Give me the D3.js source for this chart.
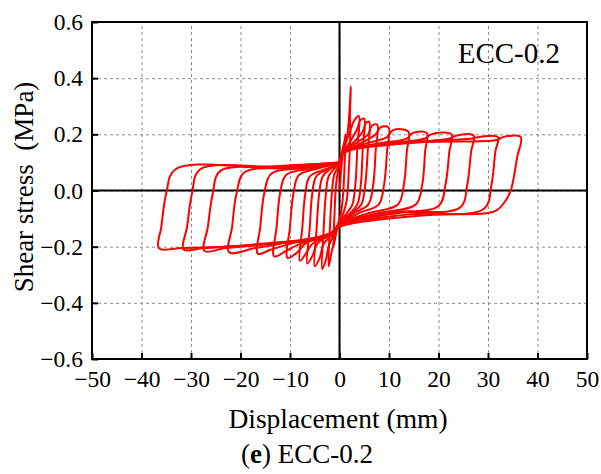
<!DOCTYPE html>
<html>
<head>
<meta charset="utf-8">
<script src="https://cdn.jsdelivr.net/npm/d3@7"></script>
<style>
  body { margin: 0; background: #fff; }
  svg { display: block; }
</style>
</head>
<body>
<svg id="chart" width="601" height="474"></svg>
<script>
var SERIF = "Liberation Serif";

// tick values
var xTicks = [-50, -40, -30, -20, -10, 0, 10, 20, 30, 40, 50];
var yTicks = [-0.6, -0.4, -0.2, 0.0, 0.2, 0.4, 0.6];

// hysteresis loops, one array of [displacement, stress] per cycle
var loops = [
  [[0,0],[0.6,0.12],[1.2,0.20],[1.0,0.08],[0.7,-0.02],[0.3,-0.08],[0,-0.10],[-0.6,-0.14],[-1.2,-0.20],[-1.0,-0.08],[-0.7,0.02],[-0.3,0.07],[0,0.09]],
  [[0,0.09],[0.8,0.16],[1.5,0.19],[2.3,0.37],[2.1,0.26],[2.2,0.22],[1.9,0.08],[1.5,-0.03],[0.8,-0.08],[0,-0.11],[-0.8,-0.16],[-1.6,-0.22],[-2.2,-0.27],[-1.9,-0.12],[-1.5,0.0],[-1.0,0.06],[0,0.09]],
  [[0,0.09],[0.5,0.13],[1.5,0.18],[2.3,0.22],[3.0,0.25],[3.9,0.265],[3.6,0.15],[3.2,0.02],[2.6,-0.05],[1.5,-0.08],[0,-0.115],[-1.0,-0.15],[-2.2,-0.2],[-2.8,-0.25],[-3.5,-0.28],[-3.2,-0.14],[-2.8,-0.02],[-2.2,0.05],[-1.2,0.075],[0,0.095]],
  [[0,0.095],[0.6,0.13],[2.0,0.17],[3.6,0.22],[4.2,0.25],[5.0,0.255],[4.7,0.15],[4.3,0.02],[3.6,-0.05],[2.2,-0.08],[0,-0.115],[-1.2,-0.15],[-3.2,-0.19],[-4.0,-0.24],[-5.0,-0.27],[-4.6,-0.13],[-4.1,-0.01],[-3.4,0.05],[-2.0,0.075],[0,0.095]],
  [[0,0.095],[0.6,0.13],[2.5,0.165],[4.7,0.21],[5.3,0.24],[6.0,0.245],[5.7,0.14],[5.2,0.02],[4.4,-0.05],[2.5,-0.08],[0,-0.12],[-1.3,-0.15],[-4.5,-0.19],[-5.4,-0.23],[-6.5,-0.26],[-6.0,-0.13],[-5.5,-0.01],[-4.7,0.05],[-2.5,0.075],[0,0.095]],
  [[0,0.095],[0.7,0.13],[3,0.165],[5.8,0.2],[6.5,0.23],[7.6,0.235],[7.3,0.14],[6.8,0.02],[5.8,-0.05],[3,-0.08],[0,-0.12],[-1.4,-0.15],[-5.5,-0.19],[-6.8,-0.225],[-8.0,-0.25],[-7.5,-0.13],[-6.9,-0.01],[-6.0,0.05],[-3,0.075],[0,0.095]],
  [[0,0.1],[0.8,0.135],[4,0.165],[7.3,0.2],[8.3,0.225],[9.9,0.225],[9.6,0.14],[9.0,0.02],[7.9,-0.05],[4,-0.08],[0,-0.12],[-1.5,-0.15],[-7,-0.19],[-8.5,-0.22],[-10.5,-0.24],[-10.0,-0.13],[-9.3,-0.01],[-8.2,0.055],[-4,0.08],[0,0.1]],
  [[0,0.1],[0.8,0.135],[5,0.165],[9.6,0.19],[10.8,0.215],[13.9,0.21],[13.6,0.14],[13.0,0.02],[11.8,-0.05],[6,-0.08],[0,-0.12],[-1.5,-0.15],[-8,-0.19],[-10.8,-0.215],[-13.2,-0.235],[-12.7,-0.13],[-12.0,-0.01],[-10.8,0.055],[-5,0.08],[0,0.1]],
  [[0,0.1],[0.9,0.135],[7,0.165],[13.6,0.185],[14.8,0.205],[17.6,0.205],[17.3,0.14],[16.7,0.02],[15.4,-0.05],[8,-0.08],[0,-0.12],[-1.6,-0.15],[-10,-0.19],[-13.8,-0.21],[-16.5,-0.225],[-16.0,-0.13],[-15.2,-0.01],[-13.8,0.06],[-7,0.08],[0,0.1]],
  [[0,0.1],[0.9,0.135],[9,0.165],[17.3,0.185],[18.5,0.2],[22.6,0.2],[22.2,0.14],[21.4,0.02],[20.0,-0.055],[10,-0.08],[0,-0.12],[-1.6,-0.15],[-12,-0.19],[-17,-0.205],[-22.3,-0.22],[-21.7,-0.13],[-20.8,-0.01],[-19.2,0.065],[-9,0.08],[0,0.1]],
  [[0,0.1],[1,0.135],[11,0.165],[22.3,0.185],[23.5,0.195],[27.1,0.195],[26.6,0.14],[25.8,0.02],[24.4,-0.06],[12,-0.08],[0,-0.125],[-1.7,-0.155],[-14,-0.19],[-23,-0.205],[-27.3,-0.215],[-26.6,-0.13],[-25.6,-0.01],[-24.1,0.07],[-11,0.08],[0,0.1]],
  [[0,0.1],[1,0.135],[13,0.17],[26.8,0.185],[28,0.19],[32,0.19],[31.5,0.14],[30.7,0.02],[29.2,-0.065],[14,-0.085],[0,-0.125],[-1.7,-0.155],[-16,-0.19],[-27.5,-0.205],[-31.5,-0.21],[-30.8,-0.13],[-29.8,-0.01],[-28.2,0.075],[-13,0.085],[0,0.1]],
  [[0,0.1],[1,0.135],[15,0.17],[31.8,0.18],[33,0.19],[36.6,0.19],[35.9,0.12],[34.6,0.0],[33.4,-0.04],[31.8,-0.07],[30,-0.08],[16,-0.09],[0,-0.13],[-1.8,-0.16],[-18,-0.195],[-31.8,-0.205],[-36.5,-0.205],[-36.0,-0.13],[-35.0,-0.01],[-33.2,0.075],[-15,0.085],[0,0.1]]
];

var svg = d3.select("#chart").attr("font-family", SERIF);
var margin = { top: 22, right: 14, bottom: 115, left: 92 },
  width = 601 - margin.left - margin.right,
  height = 474 - margin.top - margin.bottom;
var g = svg.append("g").attr("transform", "translate(" + margin.left + "," + margin.top + ")");

var x = d3.scaleLinear().domain([-50, 50]).range([0, width]);
var y = d3.scaleLinear().domain([-0.6, 0.6]).range([height, 0]);

// dashed grid
g.append("g")
  .attr("transform", "translate(0," + height + ")")
  .call(d3.axisBottom(x).tickValues(xTicks.slice(1, -1)).tickSize(-height).tickFormat(""))
  .call(function (s) { s.select(".domain").remove(); })
  .selectAll("line").attr("stroke", "#8c8c8c").attr("stroke-dasharray", "3,3");
g.append("g")
  .call(d3.axisLeft(y).tickValues(yTicks.slice(1, -1)).tickSize(-width).tickFormat(""))
  .call(function (s) { s.select(".domain").remove(); })
  .selectAll("line").attr("stroke", "#8c8c8c").attr("stroke-dasharray", "3,3");

// zero lines
g.append("line").attr("x1", x(0)).attr("x2", x(0)).attr("y1", 0).attr("y2", height)
  .attr("stroke", "#000").attr("stroke-width", 2);
g.append("line").attr("x1", 0).attr("x2", width).attr("y1", y(0)).attr("y2", y(0))
  .attr("stroke", "#000").attr("stroke-width", 2);

// loops
var line = d3.line()
  .x(function (d) { return x(d[0]); })
  .y(function (d) { return y(d[1]); })
  .curve(d3.curveCatmullRom.alpha(0.5));
g.append("g").selectAll("path").data(loops).enter()
  .append("path")
  .attr("d", line)
  .attr("fill", "none")
  .attr("stroke", "#ff0000")
  .attr("stroke-width", 2)
  .attr("stroke-linejoin", "round");

// axes
var xAxis = g.append("g")
  .attr("transform", "translate(0," + height + ")")
  .call(d3.axisBottom(x).tickValues(xTicks).tickSize(-6).tickPadding(11).tickFormat(d3.format("d")));
var yAxis = g.append("g")
  .call(d3.axisLeft(y).tickValues(yTicks).tickSize(-6).tickPadding(9).tickFormat(d3.format(".1f")));
[xAxis, yAxis].forEach(function (a) {
  a.attr("font-family", SERIF).attr("font-size", 23.5);
  a.select(".domain").remove();
  a.selectAll("line").attr("stroke", "#000").attr("stroke-width", 2);
  a.selectAll("text").attr("fill", "#000").attr("font-family", SERIF);
});

// frame
g.append("rect").attr("width", width).attr("height", height)
  .attr("fill", "none").attr("stroke", "#000").attr("stroke-width", 2);

// labels
svg.append("text")
  .attr("x", 560).attr("y", 63)
  .attr("text-anchor", "end")
  .attr("font-size", 29)
  .text("ECC-0.2");

svg.append("text")
  .attr("x", 338).attr("y", 428)
  .attr("text-anchor", "middle")
  .attr("font-size", 27.5)
  .text("Displacement (mm)");

svg.append("text")
  .attr("transform", "translate(33,187) rotate(-90)")
  .attr("text-anchor", "middle")
  .attr("xml:space", "preserve")
  .attr("font-size", 27)
  .style("white-space", "pre")
  .text("Shear stress  (MPa)");

var cap = svg.append("text")
  .attr("x", 307).attr("y", 463)
  .attr("text-anchor", "middle")
  .attr("font-size", 27);
cap.append("tspan").text("(");
cap.append("tspan").attr("font-weight", "bold").text("e");
cap.append("tspan").text(") ECC-0.2");
</script>
</body>
</html>
